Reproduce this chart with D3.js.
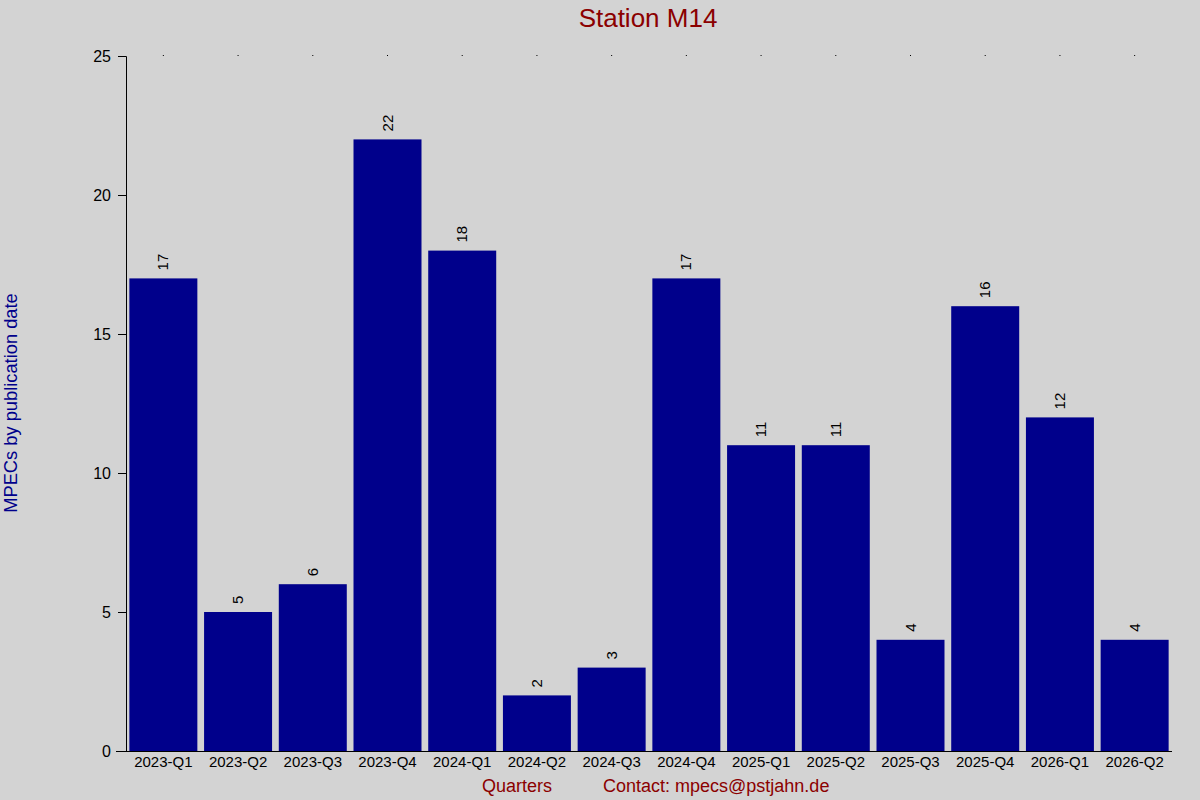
<!DOCTYPE html>
<html><head><meta charset="utf-8">
<script src="https://cdn.jsdelivr.net/npm/d3@7"></script>
<style>
html,body{margin:0;padding:0;background:#d3d3d3;}
text{font-family:"Liberation Sans",Arial,sans-serif;}
</style></head>
<body>
<svg id="chart" width="1200" height="800"></svg>
<script>
const categories = ["2023-Q1","2023-Q2","2023-Q3","2023-Q4","2024-Q1","2024-Q2","2024-Q3","2024-Q4","2025-Q1","2025-Q2","2025-Q3","2025-Q4","2026-Q1","2026-Q2"];
const values = [17,5,6,22,18,2,3,17,11,11,4,16,12,4];
const yTicks = [0,5,10,15,20,25];
const titleText = "Station M14";
const yLabelText = "MPECs by publication date";
const xLabelText = "Quarters";
const contactText = "Contact: mpecs@pstjahn.de";

(function(){
const svg = d3.select("#chart");
svg.append("rect").attr("width",1200).attr("height",800).attr("fill","#d3d3d3");
const pL = 126, pR = 1172, pT = 56, pB = 751;

const x = d3.scaleBand().domain(categories).range([pL,pR]).paddingInner(0.09).paddingOuter(0.045);
const y = d3.scaleLinear().domain([0,25]).range([pB,pT]);

// bars
svg.append("g").selectAll("rect").data(values).join("rect")
  .attr("x",(d,i)=>x(categories[i]))
  .attr("width",x.bandwidth())
  .attr("y",d=>y(d))
  .attr("height",d=>y(0)-y(d))
  .attr("fill","#00008b");

// value labels
svg.append("g").selectAll("text").data(values).join("text")
  .attr("transform",(d,i)=>`translate(${x(categories[i])+x.bandwidth()/2+5},${y(d)-8}) rotate(-90)`)
  .attr("font-size",15).attr("fill","#000")
  .text(d=>d);

// y axis
const yAxis = svg.append("g").attr("transform",`translate(${pL},0)`)
  .call(d3.axisLeft(y).tickValues(yTicks).tickSize(8).tickPadding(7));
yAxis.select(".domain").attr("stroke","#000").attr("d",`M-8,${pT+0.5}H0.5V${pB}`);
yAxis.selectAll(".tick line").attr("stroke","#000");
yAxis.selectAll(".tick text").attr("font-size",16).attr("fill","#000").attr("font-family","Liberation Sans, Arial, sans-serif");

// x axis
const xAxis = svg.append("g").attr("transform",`translate(0,${pB})`)
  .call(d3.axisBottom(x).tickSize(0).tickPadding(5));
xAxis.select(".domain").attr("stroke","#000").attr("d",`M${pL-10},0.5H${pR}`);
xAxis.selectAll(".tick text").attr("font-size",15).attr("fill","#000").attr("font-family","Liberation Sans, Arial, sans-serif");

// top dots
const xTop = svg.append("g").attr("transform",`translate(0,${pT})`)
  .call(d3.axisTop(x).tickSize(1).tickFormat(""));
xTop.select(".domain").remove();
xTop.selectAll(".tick line").attr("stroke","#000");

// title
svg.append("text").attr("x",648).attr("y",27).attr("text-anchor","middle")
  .attr("font-size",26).attr("fill","#8b0000").text(titleText);
// y label
svg.append("text").attr("transform","translate(17,403) rotate(-90)").attr("text-anchor","middle")
  .attr("font-size",18.3).attr("fill","#00008b").text(yLabelText);
// x label
svg.append("text").attr("x",517).attr("y",792).attr("text-anchor","middle")
  .attr("font-size",18).attr("fill","#8b0000").text(xLabelText);
svg.append("text").attr("x",603).attr("y",792)
  .attr("font-size",18).attr("fill","#8b0000").text(contactText);
})();
</script>
</body></html>
